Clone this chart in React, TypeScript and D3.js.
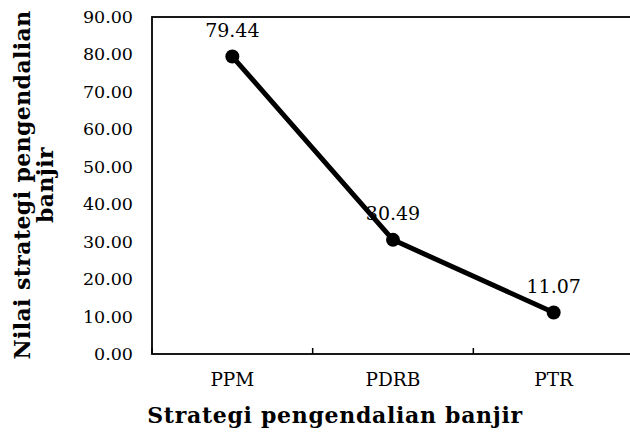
import React from "react";
import * as d3 from "d3";

const categories = ["PPM", "PDRB", "PTR"];
const values = [79.44, 30.49, 11.07];
const yTicks = [0, 10, 20, 30, 40, 50, 60, 70, 80, 90];
const xTitle = "Strategi pengendalian banjir";
const yTitleLines = ["Nilai strategi pengendalian", "banjir"];

const W = 630;
const H = 434;
const left = 152;
const right = 634;
const top = 17;
const bottom = 354;
const FONT = "'DejaVu Serif', serif";

export default function App() {
  const x = d3.scaleBand<string>().domain(categories).range([left, right]).padding(0);
  const y = d3.scaleLinear().domain([0, 90]).range([bottom, top]);
  const line = d3
    .line<number>()
    .x((_, i) => (x(categories[i]) as number) + x.bandwidth() / 2)
    .y((d) => y(d));
  const boundaries = [left, ...categories.map((c) => (x(c) as number) + x.bandwidth())];

  return (
    <svg
      width={W}
      height={H}
      style={{ position: "absolute", left: 0, top: 0, background: "#fff" }}
      fontFamily={FONT}
    >
      <rect x={0} y={0} width={W} height={H} fill="#fff" />
      <rect
        x={left}
        y={top}
        width={right - left}
        height={bottom - top}
        fill="none"
        stroke="#000"
        strokeWidth={1.8}
      />
      {boundaries.map((b, i) => (
        <line key={i} x1={b} x2={b} y1={bottom} y2={bottom - 6} stroke="#000" strokeWidth={1.5} />
      ))}
      {yTicks.map((t) => (
        <text
          key={t}
          x={133}
          y={y(t) + 6}
          textAnchor="end"
          fontSize={17.5}
          fill="#000"
        >
          {t.toFixed(2)}
        </text>
      ))}
      {categories.map((c) => (
        <text
          key={c}
          x={(x(c) as number) + x.bandwidth() / 2}
          y={386}
          textAnchor="middle"
          fontSize={18.5}
          fill="#000"
        >
          {c}
        </text>
      ))}
      <path d={line(values) || ""} fill="none" stroke="#000" strokeWidth={5} strokeLinejoin="round" />
      {values.map((v, i) => (
        <circle
          key={i}
          cx={(x(categories[i]) as number) + x.bandwidth() / 2}
          cy={y(v)}
          r={7}
          fill="#000"
        />
      ))}
      {values.map((v, i) => (
        <text
          key={"l" + i}
          x={(x(categories[i]) as number) + x.bandwidth() / 2}
          y={y(v) - 20}
          textAnchor="middle"
          fontSize={19}
          fill="#000"
        >
          {v.toFixed(2)}
        </text>
      ))}
      <text
        x={335}
        y={423}
        textAnchor="middle"
        fontSize={22}
        fontWeight="bold"
        letterSpacing={0.7}
        fill="#000"
      >
        {xTitle}
      </text>
      <g transform="translate(0,185) rotate(-90)">
        {yTitleLines.map((l, i) => (
          <text
            key={i}
            x={0}
            y={30 + i * 23}
            textAnchor="middle"
            fontSize={22}
            fontWeight="bold"
            letterSpacing={0.4}
            fill="#000"
          >
            {l}
          </text>
        ))}
      </g>
    </svg>
  );
}
